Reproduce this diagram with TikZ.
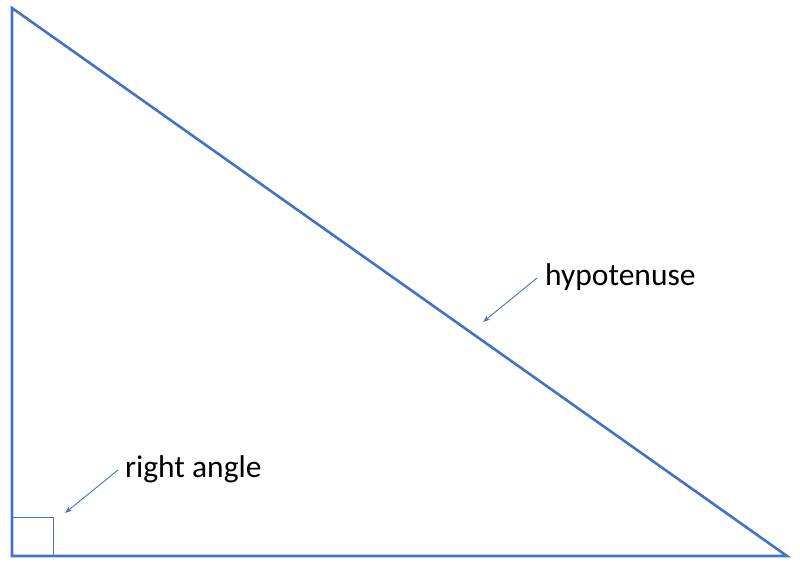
\documentclass[tikz,border=0pt]{standalone}
\usepackage{fontspec}
\setmainfont{Carlito}
\usetikzlibrary{arrows.meta}
\definecolor{offblue}{HTML}{4472C4}
\tikzset{
  side/.style={draw=offblue, line width=2.6pt, line join=miter},
  sqline/.style={draw=offblue, line width=1pt},
  pointer/.style={draw=offblue, line width=0.9pt, -{Stealth[length=7pt,width=5pt]}},
  label/.style={inner sep=0pt, anchor=base west, font=\fontsize{31.5}{36}\selectfont, text=black}
}
\begin{document}
\begin{tikzpicture}[x=1pt,y=-1pt]
\useasboundingbox (0,0) rectangle (800,566);
\coordinate (A) at (12,8);
\coordinate (B) at (12,556);
\coordinate (C) at (787,556);
\draw[side] (A) -- (B) -- (C) -- cycle;
\draw[sqline] (12,517) rectangle (53,556);
\node[label] (ra) at (125,477) {right angle};
\node[label] (hy) at (545,285) {hypotenuse};
\coordinate (ratip) at (65,513);
\coordinate (hytip) at (483,322);
\draw[pointer] (118,470) -- (ratip);
\draw[pointer] (537,278) -- (hytip);
\end{tikzpicture}
\end{document}
